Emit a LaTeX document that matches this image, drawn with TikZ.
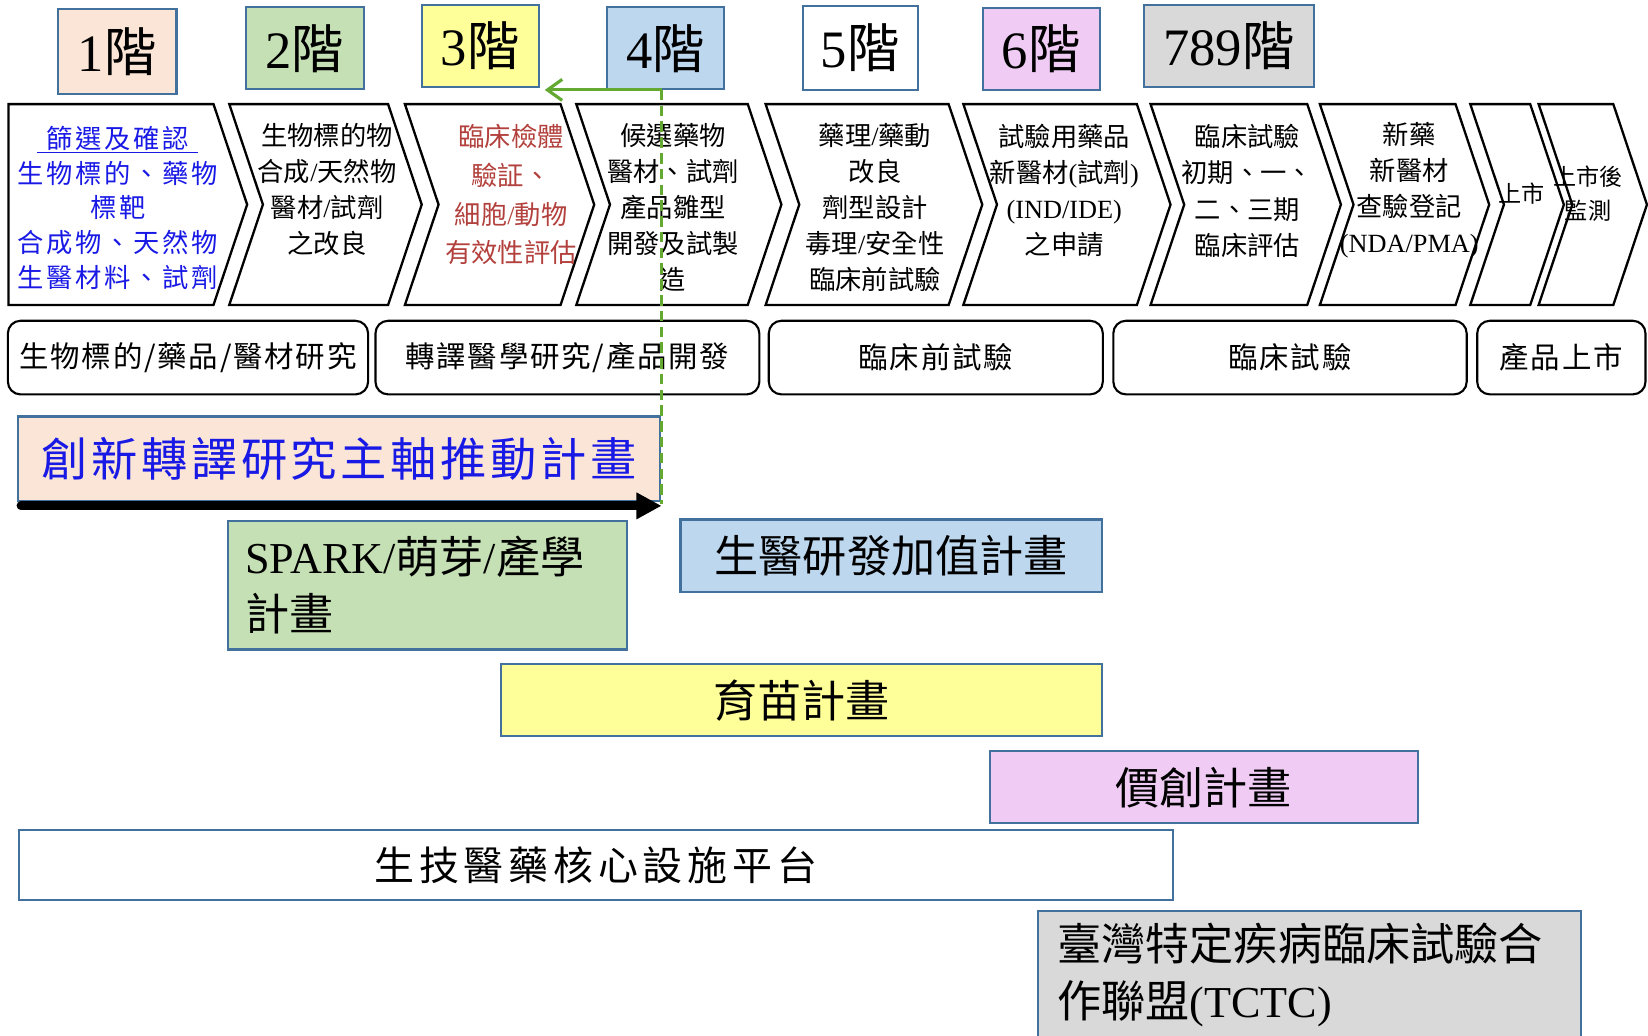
\documentclass[tikz,border=0pt]{standalone}
\usepackage{fontspec}
\setmainfont{Noto Sans CJK TC}
\newfontfamily\tnr{Liberation Serif}
\usetikzlibrary{arrows.meta}
\definecolor{bordc}{RGB}{65,113,156}
\definecolor{peach}{RGB}{251,229,214}
\definecolor{lgreen}{RGB}{197,224,180}
\definecolor{lyellow}{RGB}{255,255,153}
\definecolor{lblue}{RGB}{189,215,238}
\definecolor{lviolet}{RGB}{240,204,245}
\definecolor{lgray}{RGB}{217,217,217}
\definecolor{txtblue}{RGB}{25,25,230}
\definecolor{txtred}{RGB}{178,64,60}
\definecolor{arrgreen}{RGB}{100,170,50}
\tikzset{
  stepbox/.style={draw=bordc, line width=2pt, inner sep=0pt, font={\fontsize{50}{60}\selectfont}},
  chev/.style={draw=black, line width=2.2pt, line join=miter},
  chevtxt/.style={align=center, inner sep=0pt, font={\fontsize{25}{34.3}\selectfont}},
  stagebox/.style={draw=black, line width=2pt, rounded corners=12pt, inner sep=0pt,
     minimum height=70pt, font={\fontsize{28}{34}\selectfont\addfontfeature{LetterSpace=6}}},
  progbox/.style={draw=bordc, line width=2pt, inner sep=0pt},
  progfont/.style={font={\fontsize{42}{54}\selectfont}},
  greenline/.style={draw=arrgreen, line width=3pt, -{Straight Barb[length=14pt,width=20pt]}},
  greendash/.style={draw=arrgreen, line width=2.5pt, dash pattern=on 10pt off 5pt},
  blackarrow/.style={draw=black, line width=8.5pt, line cap=round, -{Triangle[length=24pt,width=24pt]}},
}
\begin{document}
\begin{tikzpicture}[x=1pt,y=-1pt]
\useasboundingbox (0,0) rectangle (1567,985);

% chevrons
\draw[chev] (8,99) -- (203,99) -- (235,194.5) -- (203,290) -- (8,290) -- cycle;
\draw[chev] (218,99) -- (369,99) -- (401,194.5) -- (369,290) -- (218,290) -- (250,194.5) -- cycle;
\draw[chev] (385,99) -- (533,99) -- (565,194.5) -- (533,290) -- (385,290) -- (417,194.5) -- cycle;
\draw[chev] (548,99) -- (711,99) -- (743,194.5) -- (711,290) -- (548,290) -- (580,194.5) -- cycle;
\draw[chev] (728,99) -- (902,99) -- (934,194.5) -- (902,290) -- (728,290) -- (760,194.5) -- cycle;
\draw[chev] (916,99) -- (1081,99) -- (1113,194.5) -- (1081,290) -- (916,290) -- (948,194.5) -- cycle;
\draw[chev] (1094,99) -- (1243,99) -- (1275,194.5) -- (1243,290) -- (1094,290) -- (1126,194.5) -- cycle;
\draw[chev] (1255,99) -- (1384,99) -- (1416,194.5) -- (1384,290) -- (1255,290) -- (1287,194.5) -- cycle;
\draw[chev] (1398,99) -- (1455,99) -- (1487,194.5) -- (1455,290) -- (1398,290) -- (1430,194.5) -- cycle;
\draw[chev] (1463,99) -- (1534,99) -- (1566,194.5) -- (1534,290) -- (1463,290) -- (1495,194.5) -- cycle;

% chevron texts
\node[chevtxt, text=txtblue, font={\fontsize{25}{33}\selectfont\addfontfeature{LetterSpace=10}}] (c1) at (112,197.5)
  {篩選及確認\\生物標的、藥物\\標靶\\合成物、天然物\\生醫材料、試劑};
\draw[txtblue, line width=1.5pt] (35,145) -- (188,145);
\node[chevtxt] (c2) at (311,180) {生物標的物\\合成{\tnr/}天然物\\醫材{\tnr/}試劑\\之改良};
\node[chevtxt, text=txtred, font={\fontsize{25}{37}\selectfont}] (c3) at (486,185) {臨床檢體\\驗証、\\細胞{\tnr/}動物\\有效性評估};
\node[chevtxt] (c4) at (640,197.5) {候選藥物\\醫材、試劑\\產品雛型\\開發及試製\\造};
\node[chevtxt] (c5) at (832,197.5) {藥理{\tnr/}藥動\\改良\\劑型設計\\毒理{\tnr/}安全性\\臨床前試驗};
\node[chevtxt] (c6) at (1012,181) {試驗用藥品\\新醫材{\tnr(}試劑{\tnr)}\\{\tnr(IND/IDE)}\\之申請};
\node[chevtxt] (c7) at (1186,181.5) {臨床試驗\\初期、一、\\二、三期\\臨床評估};
\node[chevtxt] (c8) at (1340,180.5) {新藥\\新醫材\\查驗登記\\{\tnr(NDA/PMA)}};
\node[chevtxt, font={\fontsize{22}{32}\selectfont}] (c9) at (1447,184) {上市};
\node[chevtxt, font={\fontsize{22}{32}\selectfont}] (c10) at (1510,184) {上市後\\監測};

% step boxes
\node[stepbox, fill=peach, minimum width=112.4pt, minimum height=81pt] (s1) at (111.6,49) {{\tnr 1}階};
\node[stepbox, fill=lgreen, minimum width=112pt, minimum height=78pt] (s2) at (289.75,46) {{\tnr 2}階};
\node[stepbox, fill=lyellow, minimum width=111.6pt, minimum height=78pt] (s3) at (456.8,43.9) {{\tnr 3}階};
\node[stepbox, fill=lblue, minimum width=111pt, minimum height=78pt] (s4) at (632.9,46) {{\tnr 4}階};
\node[stepbox, fill=white, minimum width=109.7pt, minimum height=80pt] (s5) at (818,45.6) {{\tnr 5}階};
\node[stepbox, fill=lviolet, minimum width=111pt, minimum height=77.7pt] (s6) at (990.2,46.7) {{\tnr 6}階};
\node[stepbox, fill=lgray, minimum width=162pt, minimum height=78pt] (s7) at (1168.5,43.9) {{\tnr 789}階};

% stage boxes
\node[stagebox, minimum width=342.5pt] (p1) at (178.75,340) {生物標的/藥品/醫材研究};
\node[stagebox, minimum width=365pt] (p2) at (539.5,340) {轉譯醫學研究/產品開發};
\node[stagebox, minimum width=317.6pt] (p3) at (889.8,340) {臨床前試驗};
\node[stagebox, minimum width=336pt] (p4) at (1226.6,340) {臨床試驗};
\node[stagebox, minimum width=160pt] (p5) at (1484.6,340) {產品上市};

% program boxes
\node[progbox, fill=peach, minimum width=610pt, minimum height=80pt, text=txtblue,
      font={\fontsize{44}{54}\selectfont\addfontfeature{LetterSpace=8}}] (main) at (322.5,436) {創新轉譯研究主軸推動計畫};
\node[progbox, progfont, fill=lgreen, minimum height=122pt, text width=347pt, inner xsep=16pt, align=left] (spark) at (406.5,556.6)
  {{\tnr SPARK/}萌芽{\tnr /}產學\\計畫};
\node[progbox, progfont, fill=lblue, minimum width=401pt, minimum height=69.3pt] (value) at (847.5,528.6) {生醫研發加值計畫};
\node[progbox, progfont, fill=lyellow, minimum width=572pt, minimum height=68.2pt] (seed) at (762,665.7) {育苗計畫};
\node[progbox, progfont, fill=lviolet, minimum width=407pt, minimum height=68.3pt] (vc) at (1144.5,748.5) {價創計畫};
\node[progbox, fill=white, minimum width=1097pt, minimum height=66.3pt,
      font={\fontsize{38}{50}\selectfont\addfontfeature{LetterSpace=12}}] (core) at (566.5,822.7) {生技醫藥核心設施平台};
\node[progbox, fill=lgray, anchor=north west, minimum width=516pt, minimum height=160pt] (tctc) at (986,865) {};
\node[progfont, inner sep=0pt, align=left, anchor=west] (tctctxt) at (1005,927)
  {臺灣特定疾病臨床試驗合\\作聯盟{\tnr(TCTC)}};

% arrows
\coordinate (k0) at (20,481);
\coordinate (k1) at (629,481);
\draw[blackarrow] (k0) -- (k1);
\coordinate (g0) at (629,85.5);
\coordinate (g1) at (518,85.5);
\coordinate (g2) at (629,479);
\draw[greenline] (g0) -- (g1);
\draw[greendash] (g0) -- (g2);
\end{tikzpicture}
\end{document}
